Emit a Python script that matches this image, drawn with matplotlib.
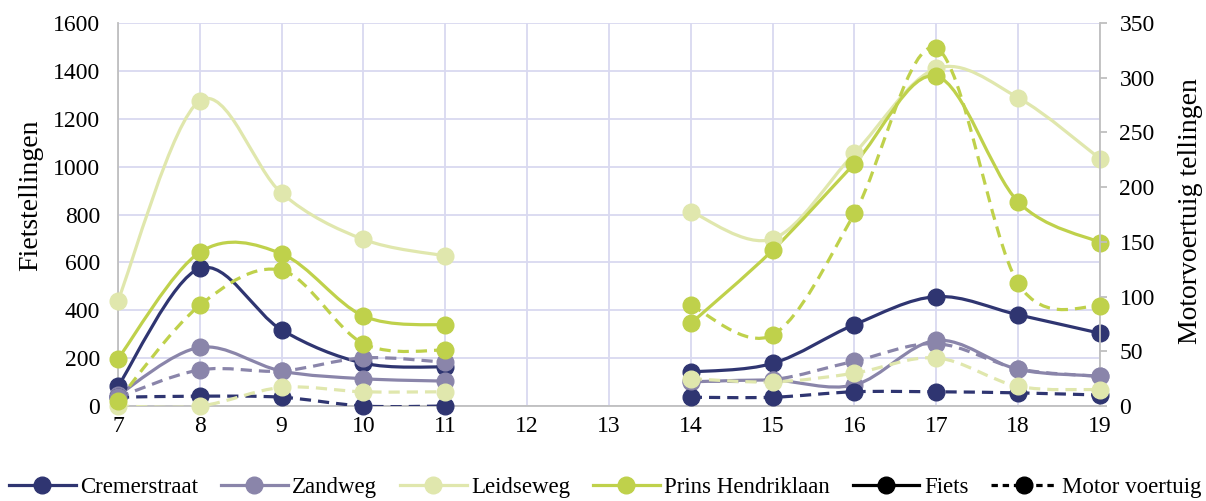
import numpy as np
import matplotlib
matplotlib.use("Agg")
import matplotlib.pyplot as plt
from matplotlib.path import Path
from matplotlib.patches import PathPatch
from matplotlib.lines import Line2D

plt.rcParams['font.family'] = ['Liberation Serif', 'DejaVu Serif']

# Hours of the day (12 and 13 have no counts)
hours = [7, 8, 9, 10, 11, 12, 13, 14, 15, 16, 17, 18, 19]
nan = np.nan

# Fiets counts (left axis)
cremer_fiets = [82, 575, 318, 179, 163, nan, nan, 142, 178, 340, 457, 381, 304]
zandweg_fiets = [45, 245, 146, 114, 104, nan, nan, 101, 108, 88, 274, 153, 125]
leidse_fiets = [440, 1275, 889, 696, 627, nan, nan, 812, 698, 1056, 1410, 1288, 1033]
prins_fiets = [197, 642, 636, 376, 338, nan, nan, 345, 651, 1013, 1378, 853, 683]

# Motor voertuig counts (right axis)
cremer_motor = [8, 9, 8, 0, 0, nan, nan, 8, 8, 13, 13, 12, 10]
zandweg_motor = [8, 33, 32, 44, 40, nan, nan, 23, 24, 41, 57, 34, 27]
leidse_motor = [0, 0, 17, 13, 13, nan, nan, 25, 22, 30, 44, 18, 15]
prins_motor = [5, 92, 124, 57, 51, nan, nan, 92, 65, 176, 327, 112, 91]

streets = ["Cremerstraat", "Zandweg", "Leidseweg", "Prins Hendriklaan"]
colors = ["#2f3571", "#8a85aa", "#e0e7ad", "#bfd14b"]


def smooth_path(xs, ys):
    """Excel-like smoothed line: cubic bezier segments through the points,
    split where values are missing."""
    xs = np.asarray(xs, float)
    ys = np.asarray(ys, float)
    verts, codes = [], []
    ok = ~np.isnan(ys)
    i = 0
    while i < len(xs):
        if not ok[i]:
            i += 1
            continue
        j = i
        while j < len(xs) and ok[j]:
            j += 1
        pts = np.column_stack([xs[i:j], ys[i:j]])
        n = len(pts)
        verts.append(pts[0]); codes.append(Path.MOVETO)
        for k in range(n - 1):
            p0 = pts[k - 1] if k > 0 else pts[k]
            p1 = pts[k]
            p2 = pts[k + 1]
            p3 = pts[k + 2] if k + 2 < n else pts[k + 1]
            c1 = p1 + (p2 - p0) / 6.0
            c2 = p2 - (p3 - p1) / 6.0
            verts += [c1, c2, p2]
            codes += [Path.CURVE4] * 3
        i = j
    return Path(verts, codes)


fig = plt.figure(figsize=(12.06, 5.01), dpi=100)
ax = fig.add_axes([0.0978, 0.1896, 0.8143, 0.7645])
ax2 = ax.twinx()

grid_c = "#d9d9f0"
spine_c = "#bfbfbf"
lw = 2.3
ms = 12

for vals, c in zip([cremer_fiets, zandweg_fiets, leidse_fiets, prins_fiets], colors):
    ax.add_patch(PathPatch(smooth_path(hours, vals), fill=False, ec=c, lw=lw,
                           capstyle='round', joinstyle='round', zorder=3))
    ax.plot(hours, vals, 'o', color=c, ms=ms, clip_on=False, zorder=4)

for vals, c in zip([cremer_motor, zandweg_motor, leidse_motor, prins_motor], colors):
    ax2.add_patch(PathPatch(smooth_path(hours, vals), fill=False, ec=c, lw=lw,
                            linestyle=(0, (3.5, 2.2)), zorder=3))
    ax2.plot(hours, vals, 'o', color=c, ms=ms, clip_on=False, zorder=4)

ax.set_xlim(7, 19)
ax.set_ylim(0, 1600)
ax2.set_ylim(0, 350)
ax.set_xticks(hours)
ax.set_yticks(range(0, 1601, 200))
ax2.set_yticks(range(0, 351, 50))

ax.grid(True, color=grid_c, lw=1.3)
ax.set_axisbelow(True)

for a in (ax, ax2):
    a.spines['top'].set_visible(False)
    for s in ('left', 'right', 'bottom'):
        a.spines[s].set_color(spine_c)
        a.spines[s].set_linewidth(1.3)
ax.spines['right'].set_visible(False)
ax2.spines['left'].set_visible(False)
ax2.spines['bottom'].set_visible(False)

ax.tick_params(axis='both', length=0, labelsize=17, pad=7)
ax.tick_params(axis='y', pad=13)
ax2.tick_params(axis='y', length=5, width=1.3, color=spine_c, labelsize=17, pad=9)

ax.set_ylabel("Fietstellingen", fontsize=20)
ax.yaxis.set_label_coords(-0.0764, 0.55)
ax2.set_ylabel("Motorvoertuig tellingen", fontsize=20)
ax2.yaxis.set_label_coords(1.0794, 0.51)

handles = [Line2D([], [], color=c, lw=lw, marker='o', ms=ms) for c in colors]
handles.append(Line2D([], [], color='black', lw=lw, marker='o', ms=ms))
handles.append(Line2D([], [], color='black', lw=lw, marker='o', ms=ms, linestyle=(0, (2, 1.5))))
labels = streets + ["Fiets", "Motor voertuig"]
fig.legend(handles, labels, loc='center', bbox_to_anchor=(0.502, 0.027), ncol=6,
           frameon=False, fontsize=16.5, handlelength=2.9, columnspacing=1.0,
           handletextpad=0.2, borderaxespad=0)

fig.savefig("out.png", dpi=100)
